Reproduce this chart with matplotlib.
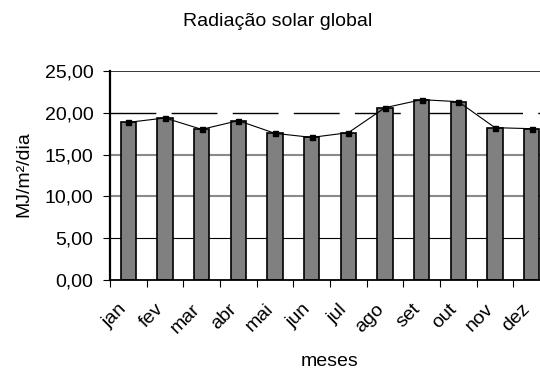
import numpy as np
import matplotlib
matplotlib.use("Agg")
import matplotlib.pyplot as plt
from matplotlib.transforms import ScaledTranslation

plt.rcParams['font.family'] = ['Liberation Sans', 'DejaVu Sans']

meses = ["jan", "fev", "mar", "abr", "mai", "jun", "jul", "ago", "set", "out", "nov", "dez"]
radiacao = [18.86, 19.38, 18.02, 19.06, 17.54, 17.06, 17.62, 20.61, 21.57, 21.33, 18.22, 18.10]
yticks = [0, 5, 10, 15, 20, 25]
ytick_labels = ["0,00", "5,00", "10,00", "15,00", "20,00", "25,00"]

W, H = 540, 372
fig = plt.figure(figsize=(W / 100, H / 100), dpi=100)
# axes run a bit past the right edge, as in the cropped original
ax = fig.add_axes([110 / W, (H - 280) / H, 440 / W, 209 / H])

x = np.arange(len(meses))

# grid lines (drawn under the bars)
ax.axhline(5, color='black', lw=0.8, zorder=1)
ax.axhline(10, color='#8a8a8a', lw=1.5, zorder=1)
ax.axhline(15, color='#8a8a8a', lw=1.5, zorder=1)
ax.axhline(20, color='black', lw=1.0, linestyle=(0, (33, 11)), zorder=1)
ax.axhline(25, color='black', lw=1.1, zorder=1)

ax.bar(x, radiacao, width=0.41, color='#808080', edgecolor='black', linewidth=1.2, zorder=2)
ax.plot(x, radiacao, color='black', lw=0.8, marker='s', markersize=3.6, zorder=3)

ax.set_xlim(-0.5, len(meses) - 0.5)
ax.set_ylim(0, 25)

for s in ['top', 'right']:
    ax.spines[s].set_visible(False)
ax.spines['left'].set_linewidth(1.6)
ax.spines['bottom'].set_linewidth(1.3)

ax.set_yticks(yticks)
ax.set_yticklabels(ytick_labels, fontsize=14)
ax.tick_params(axis='y', direction='out', length=5, width=0.8, pad=7)

ax.set_xticks(x)
ax.set_xticklabels(meses, fontsize=14, rotation=45, ha='right')
ax.set_xticks(np.arange(len(meses) + 1) - 0.5, minor=True)
ax.tick_params(axis='x', which='major', length=0, pad=15)
ax.tick_params(axis='x', which='minor', direction='out', length=5, width=0.8)
# nudge the slanted labels a little to the right
shift = ScaledTranslation(2 / 100, 0, fig.dpi_scale_trans)
for lab in ax.get_xticklabels():
    lab.set_transform(lab.get_transform() + shift)

fig.text(278 / W, 1 - 22 / H, "Radiação solar global", fontsize=14, ha='center', va='center')
fig.text(330 / W, 1 - 362 / H, "meses", fontsize=14, ha='center', va='center')
fig.text(24 / W, 1 - 174 / H, "MJ/m²/dia", fontsize=14, ha='center', va='center', rotation=90)

fig.savefig("out.png", dpi=100)
